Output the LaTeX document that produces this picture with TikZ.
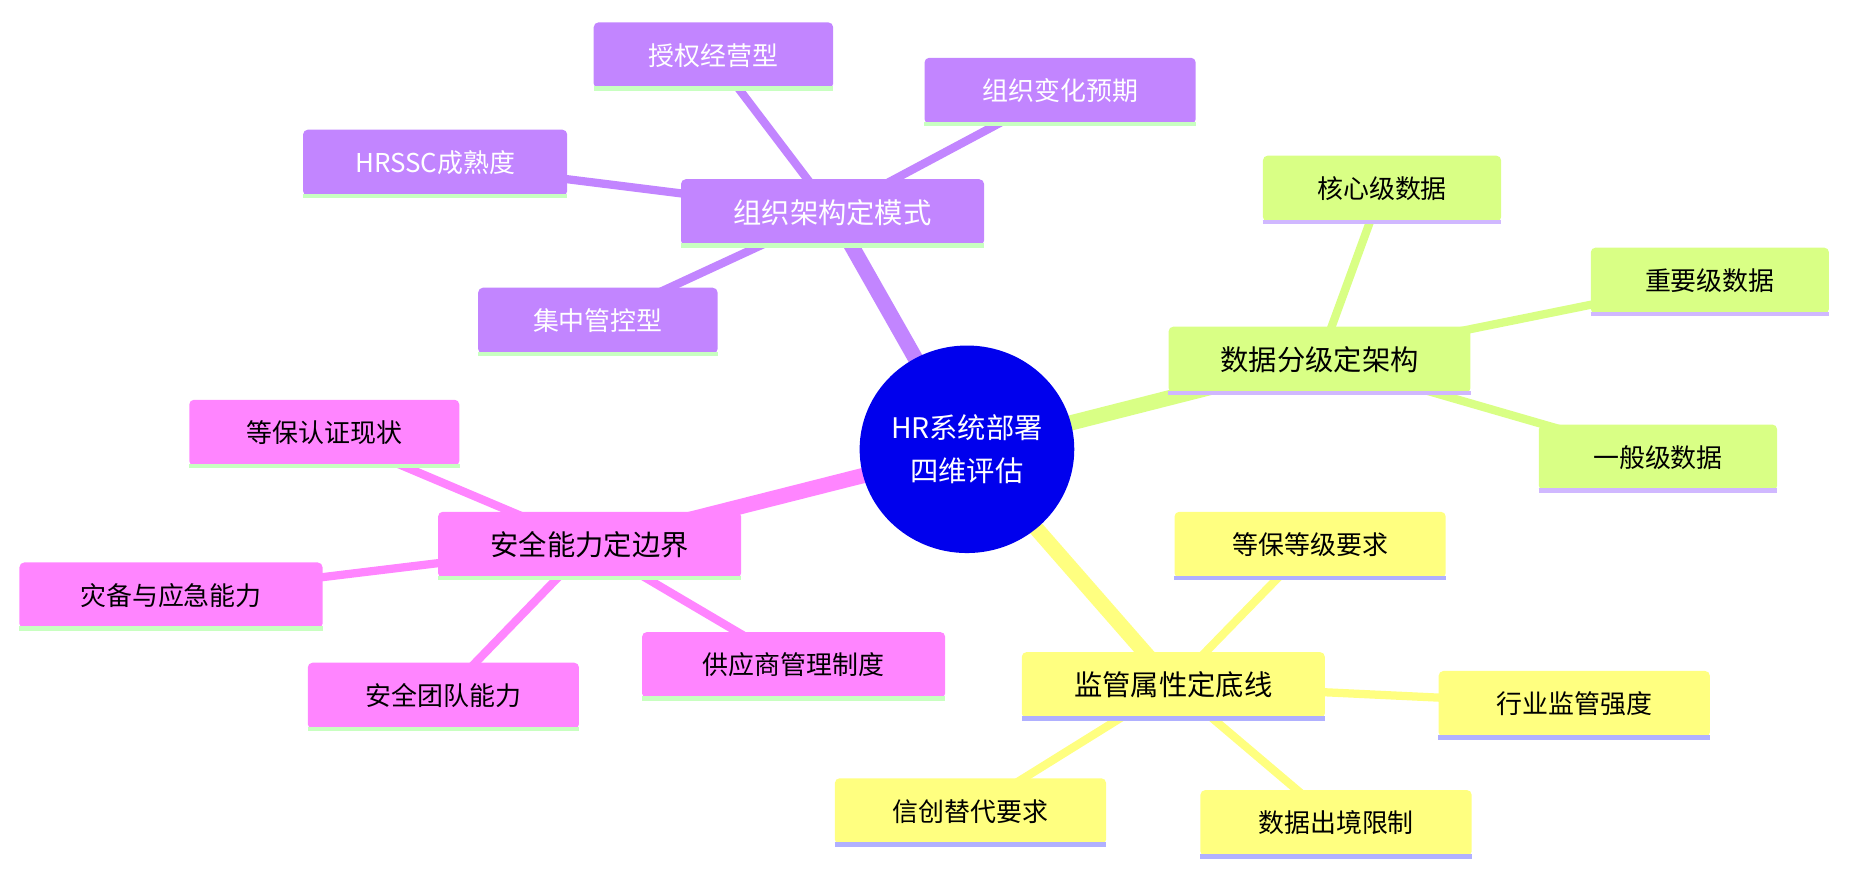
\documentclass[tikz,border=0pt]{standalone}
\usepackage{fontspec}
\newfontfamily\cjk{Noto Sans CJK SC}
\usetikzlibrary{backgrounds,shapes.geometric}
\definecolor{cpur}{HTML}{C285FF}
\definecolor{cgrn}{HTML}{D9FF85}
\definecolor{cyel}{HTML}{FFFF80}
\definecolor{cpink}{HTML}{FF85FF}
\definecolor{lgrn}{HTML}{C8FFC0}
\definecolor{lpur}{HTML}{D0B8FF}
\definecolor{lblue}{HTML}{B0B0FF}
\tikzset{
 box/.style={rectangle,rounded corners=4pt,inner sep=0pt,minimum height=56pt,font=\cjk\fontsize{22}{26}\selectfont},
 mainbox/.style={box,font=\cjk\fontsize{24}{28}\selectfont},
 ul/.style={line width=4pt},
}
\newcommand\bx[6]{% style, name, x, y, width, text
 \node[#1,minimum width=#5pt] (#2) at (#3,#4) {#6};}
\begin{document}
\begin{tikzpicture}[x=1pt,y=-1pt]
\useasboundingbox (0,0) rectangle (1568,744);
\node[ellipse,fill=blue!93!black,minimum width=175pt,minimum height=176pt,inner sep=0pt,text=white,align=center,font=\cjk\fontsize{24}{36}\selectfont] (c) at (820,381) {HR系统部署\\四维评估};
% purple
\bx{mainbox,fill=cpur,text=white}{p}{706}{180}{257}{组织架构定模式}
\bx{box,fill=cpur,text=white}{p1}{605}{47}{203}{授权经营型}
\bx{box,fill=cpur,text=white}{p2}{899}{77}{230}{组织变化预期}
\bx{box,fill=cpur,text=white}{p3}{369}{138}{224}{HRSSC成熟度}
\bx{box,fill=cpur,text=white}{p4}{507}{272}{203}{集中管控型}
% green
\bx{mainbox,fill=cgrn}{g}{1119}{305}{256}{数据分级定架构}
\bx{box,fill=cgrn}{g1}{1172}{160}{202}{核心级数据}
\bx{box,fill=cgrn}{g2}{1450}{238}{202}{重要级数据}
\bx{box,fill=cgrn}{g3}{1406}{388}{202}{一般级数据}
% yellow
\bx{mainbox,fill=cyel}{y}{995}{581}{257}{监管属性定底线}
\bx{box,fill=cyel}{y1}{1111}{462}{230}{等保等级要求}
\bx{box,fill=cyel}{y2}{1335}{597}{230}{行业监管强度}
\bx{box,fill=cyel}{y3}{823}{688}{230}{信创替代要求}
\bx{box,fill=cyel}{y4}{1133}{698}{230}{数据出境限制}
% pink
\bx{mainbox,fill=cpink}{k}{500}{462}{257}{安全能力定边界}
\bx{box,fill=cpink}{k1}{275}{367}{229}{等保认证现状}
\bx{box,fill=cpink}{k2}{145}{505}{257}{灾备与应急能力}
\bx{box,fill=cpink}{k3}{376}{590}{230}{安全团队能力}
\bx{box,fill=cpink}{k4}{673}{564}{257}{供应商管理制度}
% underlines
\foreach \n in {p,p1,p2,p3,p4,k,k1,k2,k3,k4} \draw[ul,lgrn] (\n.south west) -- (\n.south east);
\foreach \n in {g,g1,g2,g3} \draw[ul,lpur] (\n.south west) -- (\n.south east);
\foreach \n in {y,y1,y2,y3,y4} \draw[ul,lblue] (\n.south west) -- (\n.south east);
\begin{scope}[on background layer]
\draw[cpur,line width=13pt] (c.center) -- (p.center);
\draw[cgrn,line width=13pt] (c.center) -- (g.center);
\draw[cyel,line width=13pt] (c.center) -- (y.center);
\draw[cpink,line width=13pt] (c.center) -- (k.center);
\foreach \n in {p1,p2,p3,p4} \draw[cpur,line width=7pt] (p.center) -- (\n.center);
\foreach \n in {g1,g2,g3} \draw[cgrn,line width=7pt] (g.center) -- (\n.center);
\foreach \n in {y1,y2,y3,y4} \draw[cyel,line width=7pt] (y.center) -- (\n.center);
\foreach \n in {k1,k2,k3,k4} \draw[cpink,line width=7pt] (k.center) -- (\n.center);
\end{scope}
\end{tikzpicture}
\end{document}
